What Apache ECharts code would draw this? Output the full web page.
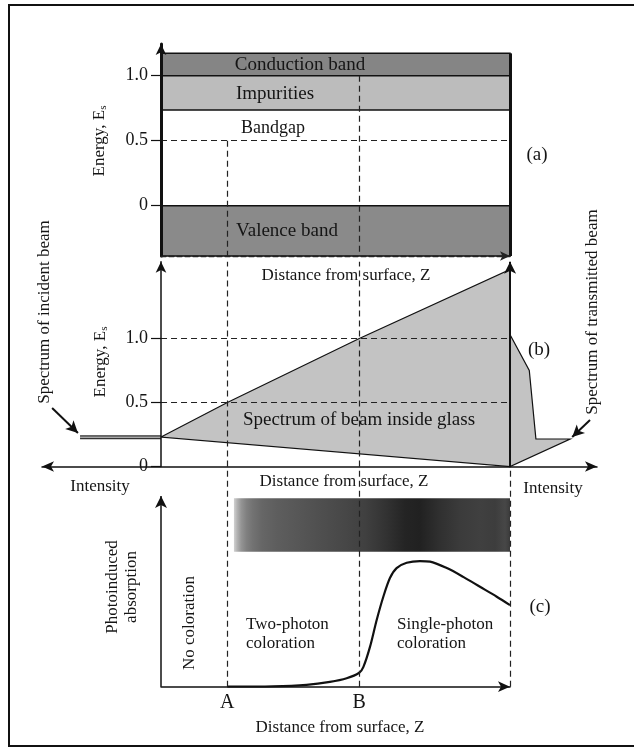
<!DOCTYPE html>
<html>
<head>
<meta charset="utf-8">
<script src="https://cdn.jsdelivr.net/npm/echarts@6/dist/echarts.min.js"></script>
<style>
html,body{margin:0;padding:0;background:#fff}
#main{width:634px;height:747px}
</style>
</head>
<body>
<div id="main"></div>
<script>
var chart = echarts.init(document.getElementById('main'));
var FONT = '"Liberation Serif", "DejaVu Serif", serif';

// positions of A and B as fraction of the distance Z
var zA = 0.19, zB = 0.568;
var energyTicks = [0, 0.5, 1.0];

// (a) band diagram, energies in units of Es
var bandNames = ['Conduction band', 'Impurities', 'Valence band'];
var bandLow = [1.0, 0.736, -0.387];
var bandHigh = [1.172, 1.0, 0];

// (b) spectrum of the beam
var beamTopZ = [0, 0.19, 0.568, 1];
var beamTopE = [0.23, 0.5, 1.0, 1.54];
var beamBottomZ = [1, 0];
var beamBottomE = [0, 0.23];
var incidentZ = [-0.232, 0];
var incidentE = [0.228, 0.228];
var transZ = [1, 1.055, 1.074, 1.172, 1];
var transE = [1.03, 0.75, 0.215, 0.215, 0];

// (c) photoinduced absorption
var absZ = [0.19, 0.321, 0.417, 0.484, 0.532, 0.568, 0.58, 0.599, 0.618, 0.637, 0.656, 0.675, 0.704, 0.742, 0.771, 0.819, 0.866, 0.914, 0.962, 1.0];
var absVal = [0, 0.002, 0.01, 0.025, 0.044, 0.073, 0.104, 0.21, 0.35, 0.472, 0.57, 0.622, 0.65, 0.659, 0.656, 0.622, 0.576, 0.524, 0.472, 0.428];

// darkness of the coloured strip along Z (0 white, 1 black)
var stripZ = [0.209, 0.218, 0.23, 0.245, 0.262, 0.29, 0.33, 0.39, 0.456, 0.527, 0.585, 0.642, 0.699, 0.742, 0.799, 0.857, 0.914, 0.957, 0.986, 1.0];
var stripShade = [0.18, 0.3, 0.42, 0.5, 0.55, 0.6, 0.63, 0.66, 0.69, 0.72, 0.75, 0.8, 0.86, 0.87, 0.81, 0.77, 0.75, 0.76, 0.72, 0.77];
var stripAbs = [0.708, 0.988];

var yMinA = -0.387, yMaxA = 1.244, yMaxB = 1.6, yMaxC = 1.155;

function grayOf(s) {
  var g = Math.round(255 * (1 - s));
  return 'rgb(' + g + ',' + g + ',' + g + ')';
}
var stripStops = stripZ.map(function (z, i) {
  return { offset: (z - stripZ[0]) / (stripZ[stripZ.length - 1] - stripZ[0]), color: grayOf(stripShade[i]) };
});

var dashStyle = { type: [6, 4], color: '#222', width: 1.2 };
function seg(x1, y1, x2, y2, style, arrow) {
  return [
    { coord: [x1, y1], lineStyle: style || dashStyle },
    { coord: [x2, y2], symbol: arrow ? 'arrow' : 'none', symbolSize: [9, 12] }
  ];
}
function guideSeries(idx, lines) {
  return {
    type: 'line', xAxisIndex: idx, yAxisIndex: idx, z: 4, data: [[0, 0]],
    symbol: 'none', lineStyle: { opacity: 0 }, silent: true,
    markLine: { silent: true, symbol: 'none', animation: false, label: { show: false }, data: lines }
  };
}
function polySeries(idx, zs, es, fill) {
  return {
    type: 'custom', xAxisIndex: idx, yAxisIndex: idx, z: 1, silent: true, data: [[zs[0], es[0]]],
    renderItem: function (params, api) {
      var pts = zs.map(function (v, i) { return api.coord([v, es[i]]); });
      return { type: 'polygon', shape: { points: pts }, style: { fill: fill, stroke: '#111', lineWidth: 1.2 } };
    }
  };
}

var bandColors = ['#858585', '#bcbcbc', '#8a8a8a'];
var solid3 = { type: 'solid', color: '#111', width: 3 };
var solid2 = { type: 'solid', color: '#111', width: 2 };

function energyAxis(idx, min, max, width) {
  return {
    gridIndex: idx, type: 'value', min: min, max: max, z: 5,
    axisLine: { show: true, onZero: false, symbol: ['none', 'arrow'], symbolSize: [8, 11], lineStyle: { color: '#111', width: width } },
    axisTick: { show: true, customValues: energyTicks, length: 10, lineStyle: { color: '#111', width: 1.2 } },
    axisLabel: {
      customValues: energyTicks, margin: 13, fontSize: 18, fontFamily: FONT, color: '#151515',
      padding: [0, 0, 10, 0],
      formatter: function (v) { return v === 0 ? '0' : v.toFixed(1); }
    },
    splitLine: { show: false }
  };
}
function hiddenAxis(idx, min, max) {
  return {
    gridIndex: idx, type: 'value', min: min, max: max,
    axisLine: { show: false }, axisTick: { show: false }, axisLabel: { show: false }, splitLine: { show: false }
  };
}

function txt(x, y, text, size, extra) {
  var el = {
    type: 'text', x: x, y: y, z: 100, silent: true,
    style: {
      text: text, font: size + 'px ' + FONT, fill: '#151515',
      align: 'center', verticalAlign: 'middle', textAlign: 'center', textVerticalAlign: 'middle'
    }
  };
  if (extra) {
    for (var k in extra) {
      if (k === 'style') { for (var s in extra.style) el.style[s] = extra.style[s]; }
      else el[k] = extra[k];
    }
  }
  return el;
}
var up = Math.PI / 2;
var subRich = { s: { fontSize: 11, fontFamily: FONT, verticalAlign: 'bottom', padding: [6, 0, 0, 0] } };

var option = {
  animation: false,
  backgroundColor: '#fff',
  grid: [
    { left: 161, top: 44, width: 349, height: 212 },
    { left: 42, top: 261.7, width: 555, height: 204.8 },
    { left: 161, top: 466.5, width: 349, height: 220.2 },
    { left: 161, top: 261.7, width: 349, height: 204.8 }
  ],
  xAxis: [
    {
      gridIndex: 0, type: 'value', min: 0, max: 1, z: 5,
      axisLine: { onZero: false, symbol: ['none', 'arrow'], symbolSize: [7, 10], lineStyle: { color: '#222', width: 1.3, type: [5, 3] } },
      axisTick: { show: false }, axisLabel: { show: false }, splitLine: { show: false }
    },
    {
      gridIndex: 1, type: 'value', min: -0.341, max: 1.249, z: 5,
      axisLine: { onZero: true, symbol: ['arrow', 'arrow'], symbolSize: [8, 12], lineStyle: { color: '#111', width: 1.5 } },
      axisTick: { show: false }, axisLabel: { show: false }, splitLine: { show: false }
    },
    {
      gridIndex: 2, type: 'value', min: 0, max: 1, z: 5,
      axisLine: { onZero: true, symbol: ['none', 'arrow'], symbolSize: [8, 12], lineStyle: { color: '#111', width: 1.5 } },
      axisTick: { show: false },
      axisLabel: {
        customValues: [zA, zB], margin: 6, fontSize: 20, fontFamily: FONT, color: '#151515',
        formatter: function (v) { return Math.abs(v - zA) < 1e-6 ? 'A' : 'B'; }
      },
      splitLine: { show: false }
    },
    hiddenAxis(3, 0, 1)
  ],
  yAxis: [
    energyAxis(0, yMinA, yMaxA, 3),
    hiddenAxis(1, 0, yMaxB),
    hiddenAxis(2, 0, yMaxC),
    energyAxis(3, 0, yMaxB, 1.5)
  ],
  series: [
    // bands of panel (a)
    {
      type: 'custom', xAxisIndex: 0, yAxisIndex: 0, z: 1, silent: true,
      data: bandLow.map(function (lo, i) { return [0, 1, lo, bandHigh[i], i]; }),
      renderItem: function (params, api) {
        var p0 = api.coord([api.value(0), api.value(3)]);
        var p1 = api.coord([api.value(1), api.value(2)]);
        return {
          type: 'rect',
          shape: { x: p0[0], y: p0[1], width: p1[0] - p0[0], height: p1[1] - p0[1] },
          style: { fill: bandColors[api.value(4)], stroke: '#111', lineWidth: 1.5 }
        };
      }
    },
    guideSeries(0, [
      seg(zA, 0.5, zA, yMinA),
      seg(zB, 1.0, zB, yMinA),
      seg(0, 0.5, 1, 0.5),
      seg(1, bandHigh[0], 1, yMinA, solid3)
    ]),
    // panel (b)
    polySeries(1, beamTopZ.concat(beamBottomZ), beamTopE.concat(beamBottomE), '#c3c3c3'),
    polySeries(1, transZ, transE, '#c3c3c3'),
    {
      type: 'line', xAxisIndex: 1, yAxisIndex: 1, z: 2, silent: true, symbol: 'none',
      data: incidentZ.map(function (z, i) { return [z, incidentE[i]]; }),
      lineStyle: { color: '#333', width: 4 }
    },
    {
      type: 'line', xAxisIndex: 1, yAxisIndex: 1, z: 3, silent: true, symbol: 'none',
      data: incidentZ.map(function (z, i) { return [z, incidentE[i]]; }),
      lineStyle: { color: '#a8a8a8', width: 1.5 }
    },
    guideSeries(1, [
      seg(zA, 0, zA, yMaxB),
      seg(zB, 0, zB, yMaxB),
      seg(0, 0.5, 1, 0.5),
      seg(0, 1.0, 1, 1.0),
      seg(1, 0, 1, yMaxB, solid2, true),
      seg(-0.312, 0.457, -0.238, 0.262, solid2, true),
      seg(1.229, 0.363, 1.178, 0.23, solid2, true)
    ]),
    // panel (c)
    {
      type: 'custom', xAxisIndex: 2, yAxisIndex: 2, z: 1, silent: true, data: [[stripZ[0], stripAbs[0]]],
      renderItem: function (params, api) {
        var p0 = api.coord([stripZ[0], stripAbs[1]]);
        var p1 = api.coord([stripZ[stripZ.length - 1], stripAbs[0]]);
        return {
          type: 'rect',
          shape: { x: p0[0], y: p0[1], width: p1[0] - p0[0], height: p1[1] - p0[1] },
          style: { fill: new echarts.graphic.LinearGradient(0, 0, 1, 0, stripStops) }
        };
      }
    },
    {
      type: 'line', xAxisIndex: 2, yAxisIndex: 2, z: 3, silent: true, symbol: 'none', smooth: 0.3,
      data: absZ.map(function (z, i) { return [z, absVal[i]]; }),
      lineStyle: { color: '#111', width: 2.2 }
    },
    guideSeries(2, [
      seg(zA, 0, zA, yMaxC),
      seg(zB, 0, zB, yMaxC),
      seg(1, 0, 1, yMaxC),
      seg(0, 0, 0, 1.0, { type: 'solid', color: '#111', width: 1.5 }, true)
    ])
  ],
  graphic: [
    { type: 'polyline', z: 100, silent: true, shape: { points: [[640, 5], [9, 5], [9, 746], [640, 746]] }, style: { stroke: '#111', lineWidth: 2, fill: null } },
    txt(300, 65, bandNames[0], 19),
    txt(275, 94, bandNames[1], 19),
    txt(273, 128, 'Bandgap', 18),
    txt(287, 231, bandNames[2], 19),
    txt(537, 155, '(a)', 19),
    txt(100, 141, 'Energy, E{s|s}', 17, { rotation: up, style: { rich: subRich } }),
    txt(346, 276, 'Distance from surface, Z', 17),
    txt(101, 362, 'Energy, E{s|s}', 17, { rotation: up, style: { rich: subRich } }),
    txt(359, 420, 'Spectrum of beam inside glass', 19),
    txt(539, 350, '(b)', 19),
    txt(45, 312, 'Spectrum of incident beam', 17, { rotation: up }),
    txt(593, 312, 'Spectrum of transmitted beam', 17, { rotation: up }),
    txt(100, 487, 'Intensity', 17),
    txt(553, 489, 'Intensity', 17),
    txt(344, 482, 'Distance from surface, Z', 17),
    txt(122, 587, 'Photoinduced\nabsorption', 17, { rotation: up, style: { lineHeight: 19 } }),
    txt(190, 623, 'No coloration', 17, { rotation: up }),
    txt(246, 634, 'Two-photon\ncoloration', 17, { style: { align: 'left', textAlign: 'left', lineHeight: 19 } }),
    txt(397, 634, 'Single-photon\ncoloration', 17, { style: { align: 'left', textAlign: 'left', lineHeight: 19 } }),
    txt(540, 607, '(c)', 19),
    txt(340, 728, 'Distance from surface, Z', 17)
  ]
};
chart.setOption(option);
</script>
</body>
</html>
